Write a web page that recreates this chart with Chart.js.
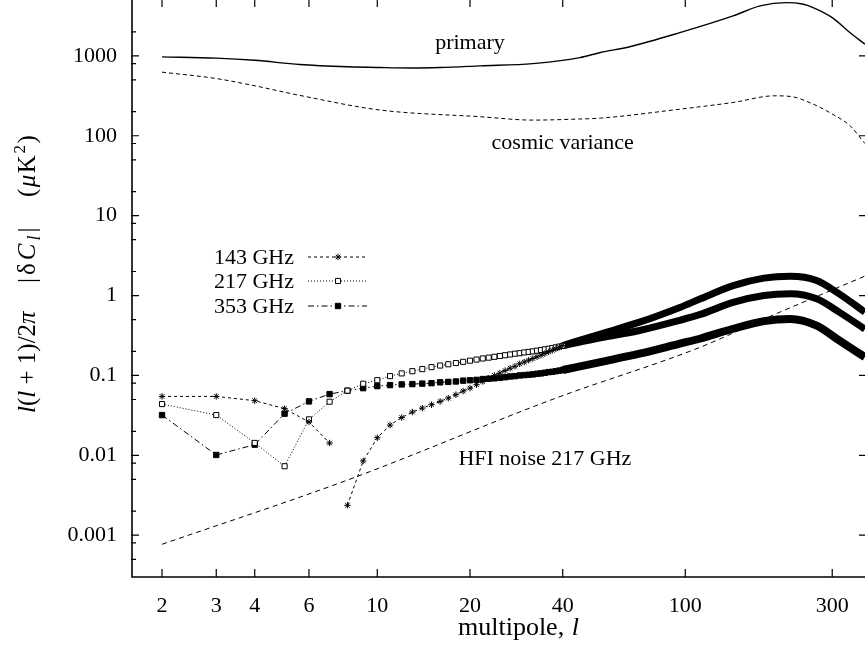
<!DOCTYPE html>
<html>
<head>
<meta charset="utf-8">
<script src="https://cdn.jsdelivr.net/npm/chart.js@4.4.1/dist/chart.umd.min.js"></script>
<style>
  html, body { margin: 0; padding: 0; background: #fff; overflow: hidden; }
</style>
</head>
<body>
<canvas id="myChart" width="865" height="657"></canvas>
<script>
// eixos
const xTicks = [2, 3, 4, 6, 10, 20, 40, 100, 300];
const yTicks = [0.001, 0.01, 0.1, 1, 10, 100, 1000];
const yLabels = ["0.001", "0.01", "0.1", "1", "10", "100", "1000"];
const yMinor = [0.0005, 0.0008, 0.002, 0.005, 0.008, 0.02, 0.05, 0.08, 0.2, 0.5, 2, 5, 8, 20, 50, 80, 200, 500, 800, 2000];

// curvas teoricas
const primaryEll = [2, 3, 4, 5.6, 8, 10.2, 13, 16, 21.6, 32, 45.5, 53, 66, 96, 143, 175, 213, 240, 260, 300, 343, 383];
const primaryVal = [970, 936, 880, 780, 730, 714, 705, 715, 750, 800, 950, 1100, 1300, 1950, 3160, 4220, 4640, 4450, 4020, 3010, 1950, 1400];
const cosmicEll = [2, 3, 4, 5.6, 10.2, 21.6, 32, 45.5, 53, 96, 143, 195, 220, 260, 300, 343, 383];
const cosmicVal = [625, 520, 422, 320, 210, 173, 157, 162, 166, 215, 261, 316, 310, 249, 187, 133, 80];
const noiseEll = [2, 8, 38, 112, 188, 383];
const noiseVal = [0.00077, 0.0049, 0.052, 0.226, 0.546, 1.75];

// pontos individuais (l = 2..40)
const lowEll = [2, 3, 4, 5, 6, 7, 8, 9, 10, 11, 12, 13, 14, 15, 16, 17, 18, 19, 20, 21, 22, 23, 24, 25, 26, 27, 28, 29, 30,
  31, 32, 33, 34, 35, 36, 37, 38, 39, 40];
const low143 = [0.0546, 0.0546, 0.0483, 0.0384, 0.0261, 0.01425, 0.00237, 0.0085, 0.0166, 0.0239, 0.0297, 0.0348, 0.039, 0.043, 0.0473, 0.052, 0.0574, 0.0637, 0.0694, 0.0765, 0.0841, 0.0917, 0.1, 0.107, 0.115, 0.123, 0.13, 0.14, 0.147,
  0.155, 0.163, 0.171, 0.179, 0.188, 0.197, 0.206, 0.215, 0.225, 0.237];
const low217 = [0.0438, 0.0319, 0.0143, 0.0073, 0.0282, 0.0469, 0.0644, 0.0787, 0.0873, 0.098, 0.106, 0.113, 0.12, 0.127, 0.133, 0.138, 0.143, 0.148, 0.153, 0.158, 0.163, 0.167, 0.171, 0.175, 0.179, 0.183, 0.187, 0.19, 0.194,
  0.197, 0.2, 0.204, 0.208, 0.212, 0.216, 0.22, 0.225, 0.23, 0.235];
const low353 = [0.0319, 0.0101, 0.0136, 0.0332, 0.0473, 0.0584, 0.0644, 0.0693, 0.0735, 0.0757, 0.0772, 0.0779, 0.079, 0.08, 0.082, 0.083, 0.084, 0.086, 0.087, 0.088, 0.09, 0.091, 0.092, 0.0935, 0.095, 0.097, 0.098, 0.1, 0.101,
  0.102, 0.103, 0.105, 0.106, 0.108, 0.11, 0.111, 0.113, 0.115, 0.117];
const gap143After = 7; // sem linha entre l=7 e l=8

// faixa densa (l >= 40), os marcadores se sobrepoem
const bandEll = [40, 53, 71, 96, 112, 143, 180, 219, 267, 316, 383];
const band143 = [0.237, 0.33, 0.464, 0.71, 0.91, 1.33, 1.65, 1.74, 1.54, 1.05, 0.62];
const band217 = [0.235, 0.296, 0.365, 0.49, 0.58, 0.82, 1.0, 1.05, 0.91, 0.62, 0.38];
const band353 = [0.117, 0.147, 0.187, 0.25, 0.29, 0.384, 0.478, 0.51, 0.42, 0.274, 0.17];

const notes = [
  { text: "primary", l: 20, v: 1223 },
  { text: "cosmic variance", l: 40, v: 68.8 },
  { text: "HFI noise 217 GHz", l: 35, v: 0.0075 },
];

const pts = (ell, val) => ell.map((l, i) => ({ x: l, y: val[i] }));
const serif = "'Liberation Serif', 'Times New Roman', serif";

const series = [
  { label: "143 GHz", dash: [3, 3], style: "star", radius: 3.2, fill: "#000" },
  { label: "217 GHz", dash: [1, 2], style: "rect", radius: 3.6, fill: "#fff" },
  { label: "353 GHz", dash: [6, 3, 1.5, 3], style: "rect", radius: 3.8, fill: "#000" },
];

function markerSet(idx, data) {
  const s = series[idx];
  return {
    data: data,
    borderColor: "#000",
    borderWidth: 1,
    borderDash: s.dash,
    pointStyle: s.style,
    pointRadius: s.radius,
    pointBorderWidth: 1,
    pointBorderColor: "#000",
    pointBackgroundColor: s.fill,
    tension: 0,
  };
}

function bandSet(data, width) {
  return {
    data: data,
    borderColor: "#000",
    borderWidth: width,
    borderCapStyle: "butt",
    pointRadius: 0,
    cubicInterpolationMode: "monotone",
  };
}

const set143 = markerSet(0, pts(lowEll, low143));
set143.segment = {
  borderColor: (c) => (c.p0.parsed.x === gap143After ? "rgba(0,0,0,0)" : "#000"),
};

const datasets = [
  set143,
  markerSet(1, pts(lowEll, low217)),
  markerSet(2, pts(lowEll, low353)),
  bandSet(pts(bandEll, band143), 7),
  bandSet(pts(bandEll, band217), 7),
  bandSet(pts(bandEll, band353), 8),
  { data: pts(primaryEll, primaryVal), borderColor: "#000", borderWidth: 1.4, pointRadius: 0, cubicInterpolationMode: "monotone" },
  { data: pts(cosmicEll, cosmicVal), borderColor: "#000", borderWidth: 1, borderDash: [4, 3], pointRadius: 0, cubicInterpolationMode: "monotone" },
  { data: pts(noiseEll, noiseVal), borderColor: "#000", borderWidth: 1, borderDash: [5, 4], pointRadius: 0, cubicInterpolationMode: "monotone" },
];

// desenha eixo, ticks espelhados, legenda, rotulos e titulos
const frame = {
  id: "frame",
  afterDraw(chart) {
    const { ctx, chartArea: a, scales } = chart;
    const x = scales.x, y = scales.y;
    ctx.save();
    ctx.strokeStyle = "#000";
    ctx.fillStyle = "#000";
    ctx.lineWidth = 1.6;
    ctx.beginPath();
    ctx.moveTo(a.left + 1, a.top);
    ctx.lineTo(a.left + 1, a.bottom);
    ctx.lineTo(a.right, a.bottom);
    ctx.stroke();

    ctx.lineWidth = 1.2;
    ctx.beginPath();
    xTicks.forEach((v) => {
      const px = x.getPixelForValue(v);
      ctx.moveTo(px, a.bottom); ctx.lineTo(px, a.bottom - 8);
      ctx.moveTo(px, a.top); ctx.lineTo(px, a.top + 7);
    });
    yTicks.forEach((v) => {
      const py = y.getPixelForValue(v);
      ctx.moveTo(a.left, py); ctx.lineTo(a.left + 8, py);
      ctx.moveTo(a.right, py); ctx.lineTo(a.right - 6, py);
    });
    yMinor.forEach((v) => {
      const py = y.getPixelForValue(v);
      ctx.moveTo(a.left, py); ctx.lineTo(a.left + 5, py);
    });
    ctx.stroke();

    // rotulos no grafico
    ctx.font = "22px " + serif;
    ctx.textAlign = "center";
    ctx.textBaseline = "alphabetic";
    notes.forEach((n) => ctx.fillText(n.text, x.getPixelForValue(n.l), y.getPixelForValue(n.v)));

    // legenda
    const rows = [257, 281, 306];
    series.forEach((s, i) => {
      ctx.textAlign = "right";
      ctx.textBaseline = "middle";
      ctx.fillText(s.label, 294, rows[i] + 1);
      ctx.save();
      ctx.lineWidth = 1;
      ctx.setLineDash(s.dash);
      ctx.beginPath();
      ctx.moveTo(308, rows[i]); ctx.lineTo(367, rows[i]);
      ctx.stroke();
      ctx.setLineDash([]);
      ctx.fillStyle = s.fill;
      Chart.helpers.drawPoint(ctx, { pointStyle: s.style, radius: s.radius, rotation: 0, borderWidth: 1 }, 338, rows[i]);
      ctx.restore();
    });

    // titulo do eixo x
    ctx.textAlign = "left";
    ctx.textBaseline = "alphabetic";
    ctx.font = "26px " + serif;
    let t = "multipole, ";
    ctx.fillText(t, 458, 635);
    let w = ctx.measureText(t).width;
    ctx.font = "italic 26px " + serif;
    ctx.fillText("l", 458 + w + 1, 635);

    // titulo do eixo y (rotacionado)
    ctx.translate(35, 413);
    ctx.rotate(-Math.PI / 2);
    const runs = (start, gap, parts) => {
      let px = start;
      parts.forEach(([txt, font, dy]) => {
        ctx.font = font;
        ctx.fillText(txt, px, dy || 0);
        px += ctx.measureText(txt).width + gap;
      });
    };
    const R = "25px " + serif, I = "italic 25px " + serif, S = "italic 18px " + serif, Sup = "17px " + serif;
    runs(0, 0, [["l", I], ["(", R], ["l", I], [" + 1)/2", R], ["π", I]]);
    runs(130, 3, [["|", R], ["δ", R], ["C", I], ["l", S, 5], ["|", R]]);
    runs(216, 1.5, [["(", R], ["μ", I], ["K", R], ["2", Sup, -10], [")", R]]);
    ctx.restore();
  },
};

new Chart(document.getElementById("myChart"), {
  type: "line",
  data: { datasets: datasets },
  options: {
    responsive: false,
    animation: false,
    events: [],
    layout: { padding: 0, autoPadding: false },
    plugins: { legend: { display: false }, tooltip: { enabled: false } },
    scales: {
      x: {
        type: "logarithmic",
        min: 1.586,
        max: 383.3,
        afterBuildTicks: (s) => { s.ticks = xTicks.map((v) => ({ value: v })); },
        afterFit: (s) => { s.height = 80; s.paddingLeft = 0; s.paddingRight = 0; },
        ticks: {
          callback: (v, i) => String(xTicks[i]),
          autoSkip: false,
          maxRotation: 0,
          padding: 16,
          color: "#000",
          font: { family: serif, size: 22 },
        },
        grid: { display: false, drawTicks: false },
        border: { display: false },
      },
      y: {
        type: "logarithmic",
        min: 3.065e-4,
        max: 5000,
        afterBuildTicks: (s) => { s.ticks = yTicks.map((v) => ({ value: v })); },
        afterFit: (s) => { s.width = 131; s.paddingTop = 0; s.paddingBottom = 0; },
        ticks: {
          callback: (v, i) => yLabels[i],
          autoSkip: false,
          padding: 14,
          color: "#000",
          font: { family: serif, size: 22 },
        },
        grid: { display: false, drawTicks: false },
        border: { display: false },
      },
    },
  },
  plugins: [frame],
});
</script>
</body>
</html>
